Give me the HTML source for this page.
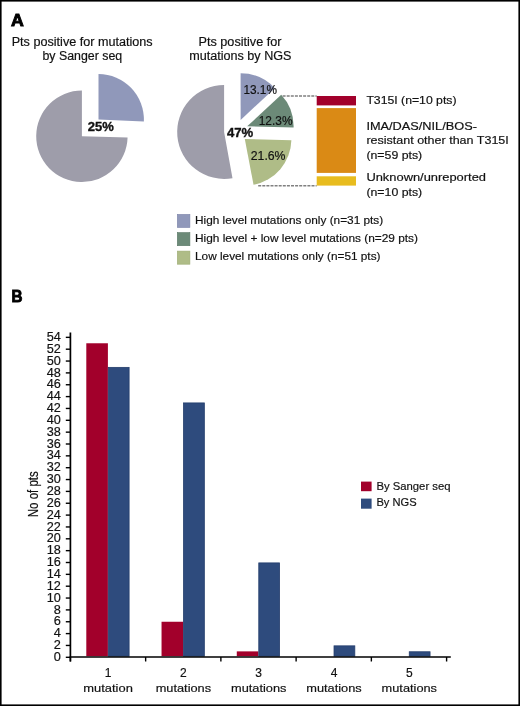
<!DOCTYPE html>
<html><head><meta charset="utf-8">
<style>
html,body{margin:0;padding:0;background:#fff;}
body{width:520px;height:706px;overflow:hidden;}
svg{display:block;will-change:transform;}
text{font-family:"Liberation Sans", sans-serif;fill:#111;stroke:#111;stroke-width:0.18px;}
.b{font-weight:bold;stroke-width:0.35px;}
.h{stroke-width:0.9px;fill:#000;stroke:#000;}
</style></head>
<body>
<svg width="520" height="706" viewBox="0 0 520 706">
<rect x="0" y="0" width="520" height="706" fill="#fff"/>
<rect x="0.8" y="0.8" width="518.4" height="704.4" fill="none" stroke="#000" stroke-width="1.6"/>

<!-- Panel A -->
<text class="b h" x="11" y="25.6" font-size="16.8" textLength="12.8" lengthAdjust="spacingAndGlyphs">A</text>

<text x="11.7" y="46" font-size="12" textLength="141" lengthAdjust="spacingAndGlyphs">Pts positive for mutations</text>
<text x="42.5" y="60.2" font-size="12" textLength="79.7" lengthAdjust="spacingAndGlyphs">by Sanger seq</text>

<text x="198.5" y="46.2" font-size="12" textLength="83" lengthAdjust="spacingAndGlyphs">Pts positive for</text>
<text x="189.2" y="60" font-size="12" textLength="102.3" lengthAdjust="spacingAndGlyphs">mutations by NGS</text>

<!-- pie 1 -->
<path d="M98.50,119.50 L98.50,74.10 A45.4,45.4 0 0 1 143.86,121.40 Z" fill="#9098BA"/>
<path d="M81.90,136.30 L127.58,137.58 A45.7,45.7 0 1 1 81.90,90.60 Z" fill="#9E9DAA"/>
<text class="b" x="87.7" y="130.9" font-size="12.6" textLength="26" lengthAdjust="spacingAndGlyphs">25%</text>

<!-- pie 2 -->
<path d="M240.60,119.90 L240.60,73.30 A46.6,46.6 0 0 1 274.77,88.21 Z" fill="#9098BA"/>
<path d="M247.20,126.30 L281.22,94.75 A46.4,46.4 0 0 1 293.59,127.47 Z" fill="#6C8A78"/>
<path d="M244.80,139.00 L291.39,140.17 A46.6,46.6 0 0 1 253.53,184.77 Z" fill="#AFBC87"/>
<path d="M224.10,132.00 L232.49,178.14 A46.9,46.9 0 1 1 224.10,85.10 Z" fill="#9E9DAA"/>
<text class="b" x="227" y="137" font-size="12.6" textLength="26.3" lengthAdjust="spacingAndGlyphs">47%</text>
<text x="243.4" y="94.25" font-size="12.2" textLength="33.5" lengthAdjust="spacingAndGlyphs">13.1%</text>
<text x="258.75" y="125" font-size="12.2" textLength="33.75" lengthAdjust="spacingAndGlyphs">12.3%</text>
<text x="250.75" y="160" font-size="12.2" textLength="34.75" lengthAdjust="spacingAndGlyphs">21.6%</text>

<!-- dashed connectors -->
<line x1="282.6" y1="95.9" x2="316.7" y2="95.9" stroke="#808080" stroke-width="1.5" stroke-dasharray="3,1.1"/>
<line x1="258.2" y1="185.8" x2="316.7" y2="185.8" stroke="#808080" stroke-width="1.5" stroke-dasharray="3,1.1"/>

<!-- stacked bar -->
<rect x="316.7" y="96" width="39.3" height="9.4" fill="#A2002B"/>
<rect x="316.7" y="108.1" width="39.3" height="64.8" fill="#DA8A15"/>
<rect x="316.7" y="176.3" width="39.3" height="9.3" fill="#E8BC1E"/>

<g font-size="11.4">
<text x="366.4" y="104.4" textLength="90.1" lengthAdjust="spacingAndGlyphs">T315I (n=10 pts)</text>
<text x="366.4" y="129.6" textLength="110.5" lengthAdjust="spacingAndGlyphs">IMA/DAS/NIL/BOS-</text>
<text x="366.4" y="144.4" textLength="142.4" lengthAdjust="spacingAndGlyphs">resistant other than T315I</text>
<text x="366.4" y="158.8" textLength="55.8" lengthAdjust="spacingAndGlyphs">(n=59 pts)</text>
<text x="366.4" y="181.3" textLength="119.6" lengthAdjust="spacingAndGlyphs">Unknown/unreported</text>
<text x="366.4" y="195.8" textLength="55.8" lengthAdjust="spacingAndGlyphs">(n=10 pts)</text>
</g>

<!-- legend A -->
<rect x="177.3" y="214.4" width="12.6" height="13.1" fill="#9098BA" stroke="#7C84AA" stroke-width="0.6"/>
<rect x="177.3" y="232.6" width="12.6" height="13.1" fill="#6C8A78" stroke="#5A7866" stroke-width="0.6"/>
<rect x="177.3" y="251.1" width="12.6" height="13.1" fill="#AFBC87" stroke="#9DAC74" stroke-width="0.6"/>
<g font-size="11.4">
<text x="195" y="223.9" textLength="188.2" lengthAdjust="spacingAndGlyphs">High level mutations only (n=31 pts)</text>
<text x="195" y="241.9" textLength="223" lengthAdjust="spacingAndGlyphs">High level + low level mutations (n=29 pts)</text>
<text x="195" y="259.9" textLength="185.5" lengthAdjust="spacingAndGlyphs">Low level mutations only (n=51 pts)</text>
</g>

<!-- Panel B -->
<text class="b h" x="11.6" y="302.2" font-size="16.8" textLength="11" lengthAdjust="spacingAndGlyphs">B</text>

<g id="chart">
<rect x="86.30" y="343.27" width="21.6" height="312.93" fill="#A2002B"/>
<rect x="108.30" y="367.37" width="20.80" height="288.83" fill="#2E4B7D" stroke="#233D6C" stroke-width="0.8"/>
<rect x="161.54" y="621.75" width="21.6" height="34.45" fill="#A2002B"/>
<rect x="183.54" y="402.92" width="20.80" height="253.28" fill="#2E4B7D" stroke="#233D6C" stroke-width="0.8"/>
<rect x="236.78" y="651.38" width="21.6" height="4.83" fill="#A2002B"/>
<rect x="258.78" y="562.90" width="20.80" height="93.30" fill="#2E4B7D" stroke="#233D6C" stroke-width="0.8"/>
<rect x="334.02" y="645.85" width="20.80" height="10.35" fill="#2E4B7D" stroke="#233D6C" stroke-width="0.8"/>
<rect x="409.26" y="651.77" width="20.80" height="4.43" fill="#2E4B7D" stroke="#233D6C" stroke-width="0.8"/>
<line x1="70.4" y1="332.5" x2="70.4" y2="661.5" stroke="#000" stroke-width="1.7"/>
<line x1="69.6" y1="657" x2="450.8" y2="657" stroke="#000" stroke-width="1.7"/>
<line x1="65.8" y1="657.30" x2="70.4" y2="657.30" stroke="#000" stroke-width="1.4"/>
<line x1="65.8" y1="645.45" x2="70.4" y2="645.45" stroke="#000" stroke-width="1.4"/>
<line x1="65.8" y1="633.60" x2="70.4" y2="633.60" stroke="#000" stroke-width="1.4"/>
<line x1="65.8" y1="621.75" x2="70.4" y2="621.75" stroke="#000" stroke-width="1.4"/>
<line x1="65.8" y1="609.90" x2="70.4" y2="609.90" stroke="#000" stroke-width="1.4"/>
<line x1="65.8" y1="598.05" x2="70.4" y2="598.05" stroke="#000" stroke-width="1.4"/>
<line x1="65.8" y1="586.20" x2="70.4" y2="586.20" stroke="#000" stroke-width="1.4"/>
<line x1="65.8" y1="574.35" x2="70.4" y2="574.35" stroke="#000" stroke-width="1.4"/>
<line x1="65.8" y1="562.50" x2="70.4" y2="562.50" stroke="#000" stroke-width="1.4"/>
<line x1="65.8" y1="550.65" x2="70.4" y2="550.65" stroke="#000" stroke-width="1.4"/>
<line x1="65.8" y1="538.80" x2="70.4" y2="538.80" stroke="#000" stroke-width="1.4"/>
<line x1="65.8" y1="526.95" x2="70.4" y2="526.95" stroke="#000" stroke-width="1.4"/>
<line x1="65.8" y1="515.10" x2="70.4" y2="515.10" stroke="#000" stroke-width="1.4"/>
<line x1="65.8" y1="503.25" x2="70.4" y2="503.25" stroke="#000" stroke-width="1.4"/>
<line x1="65.8" y1="491.40" x2="70.4" y2="491.40" stroke="#000" stroke-width="1.4"/>
<line x1="65.8" y1="479.55" x2="70.4" y2="479.55" stroke="#000" stroke-width="1.4"/>
<line x1="65.8" y1="467.70" x2="70.4" y2="467.70" stroke="#000" stroke-width="1.4"/>
<line x1="65.8" y1="455.85" x2="70.4" y2="455.85" stroke="#000" stroke-width="1.4"/>
<line x1="65.8" y1="444.00" x2="70.4" y2="444.00" stroke="#000" stroke-width="1.4"/>
<line x1="65.8" y1="432.15" x2="70.4" y2="432.15" stroke="#000" stroke-width="1.4"/>
<line x1="65.8" y1="420.30" x2="70.4" y2="420.30" stroke="#000" stroke-width="1.4"/>
<line x1="65.8" y1="408.45" x2="70.4" y2="408.45" stroke="#000" stroke-width="1.4"/>
<line x1="65.8" y1="396.60" x2="70.4" y2="396.60" stroke="#000" stroke-width="1.4"/>
<line x1="65.8" y1="384.75" x2="70.4" y2="384.75" stroke="#000" stroke-width="1.4"/>
<line x1="65.8" y1="372.90" x2="70.4" y2="372.90" stroke="#000" stroke-width="1.4"/>
<line x1="65.8" y1="361.05" x2="70.4" y2="361.05" stroke="#000" stroke-width="1.4"/>
<line x1="65.8" y1="349.20" x2="70.4" y2="349.20" stroke="#000" stroke-width="1.4"/>
<line x1="65.8" y1="337.35" x2="70.4" y2="337.35" stroke="#000" stroke-width="1.4"/>
<line x1="70.40" y1="657" x2="70.40" y2="661.5" stroke="#000" stroke-width="1.4"/>
<line x1="145.64" y1="657" x2="145.64" y2="661.5" stroke="#000" stroke-width="1.4"/>
<line x1="220.88" y1="657" x2="220.88" y2="661.5" stroke="#000" stroke-width="1.4"/>
<line x1="296.12" y1="657" x2="296.12" y2="661.5" stroke="#000" stroke-width="1.4"/>
<line x1="371.36" y1="657" x2="371.36" y2="661.5" stroke="#000" stroke-width="1.4"/>
<line x1="446.60" y1="657" x2="446.60" y2="661.5" stroke="#000" stroke-width="1.4"/>
<g font-size="12" text-anchor="end">
<text x="60.9" y="660.90" textLength="7.1" lengthAdjust="spacingAndGlyphs">0</text>
<text x="60.9" y="649.05" textLength="7.1" lengthAdjust="spacingAndGlyphs">2</text>
<text x="60.9" y="637.20" textLength="7.1" lengthAdjust="spacingAndGlyphs">4</text>
<text x="60.9" y="625.35" textLength="7.1" lengthAdjust="spacingAndGlyphs">6</text>
<text x="60.9" y="613.50" textLength="7.1" lengthAdjust="spacingAndGlyphs">8</text>
<text x="60.9" y="601.65" textLength="14.1" lengthAdjust="spacingAndGlyphs">10</text>
<text x="60.9" y="589.80" textLength="14.1" lengthAdjust="spacingAndGlyphs">12</text>
<text x="60.9" y="577.95" textLength="14.1" lengthAdjust="spacingAndGlyphs">14</text>
<text x="60.9" y="566.10" textLength="14.1" lengthAdjust="spacingAndGlyphs">16</text>
<text x="60.9" y="554.25" textLength="14.1" lengthAdjust="spacingAndGlyphs">18</text>
<text x="60.9" y="542.40" textLength="14.1" lengthAdjust="spacingAndGlyphs">20</text>
<text x="60.9" y="530.55" textLength="14.1" lengthAdjust="spacingAndGlyphs">22</text>
<text x="60.9" y="518.70" textLength="14.1" lengthAdjust="spacingAndGlyphs">24</text>
<text x="60.9" y="506.85" textLength="14.1" lengthAdjust="spacingAndGlyphs">26</text>
<text x="60.9" y="495.00" textLength="14.1" lengthAdjust="spacingAndGlyphs">28</text>
<text x="60.9" y="483.15" textLength="14.1" lengthAdjust="spacingAndGlyphs">30</text>
<text x="60.9" y="471.30" textLength="14.1" lengthAdjust="spacingAndGlyphs">32</text>
<text x="60.9" y="459.45" textLength="14.1" lengthAdjust="spacingAndGlyphs">34</text>
<text x="60.9" y="447.60" textLength="14.1" lengthAdjust="spacingAndGlyphs">36</text>
<text x="60.9" y="435.75" textLength="14.1" lengthAdjust="spacingAndGlyphs">38</text>
<text x="60.9" y="423.90" textLength="14.1" lengthAdjust="spacingAndGlyphs">40</text>
<text x="60.9" y="412.05" textLength="14.1" lengthAdjust="spacingAndGlyphs">42</text>
<text x="60.9" y="400.20" textLength="14.1" lengthAdjust="spacingAndGlyphs">44</text>
<text x="60.9" y="388.35" textLength="14.1" lengthAdjust="spacingAndGlyphs">46</text>
<text x="60.9" y="376.50" textLength="14.1" lengthAdjust="spacingAndGlyphs">48</text>
<text x="60.9" y="364.65" textLength="14.1" lengthAdjust="spacingAndGlyphs">50</text>
<text x="60.9" y="352.80" textLength="14.1" lengthAdjust="spacingAndGlyphs">52</text>
<text x="60.9" y="340.95" textLength="14.1" lengthAdjust="spacingAndGlyphs">54</text>
</g>
<g font-size="12" text-anchor="middle">
<text x="108.10" y="677">1</text>
<text x="108.10" y="691.9" font-size="11.5" textLength="49.5" lengthAdjust="spacingAndGlyphs">mutation</text>
<text x="183.40" y="677">2</text>
<text x="183.40" y="691.9" font-size="11.5" textLength="55.4" lengthAdjust="spacingAndGlyphs">mutations</text>
<text x="258.70" y="677">3</text>
<text x="258.70" y="691.9" font-size="11.5" textLength="55.4" lengthAdjust="spacingAndGlyphs">mutations</text>
<text x="334.00" y="677">4</text>
<text x="334.00" y="691.9" font-size="11.5" textLength="55.4" lengthAdjust="spacingAndGlyphs">mutations</text>
<text x="409.30" y="677">5</text>
<text x="409.30" y="691.9" font-size="11.5" textLength="55.4" lengthAdjust="spacingAndGlyphs">mutations</text>
</g>
<text transform="translate(38.1,494.25) rotate(-90)" font-size="14" text-anchor="middle" textLength="46" lengthAdjust="spacingAndGlyphs">No of pts</text>
<rect x="361" y="481.6" width="10.6" height="9.6" fill="#A2002B"/>
<rect x="361" y="498.6" width="10.6" height="10.1" fill="#2E4B7D"/>
<g font-size="11.4"><text x="376.4" y="490.1" textLength="74.1" lengthAdjust="spacingAndGlyphs">By Sanger seq</text><text x="376.4" y="506.4" textLength="40.2" lengthAdjust="spacingAndGlyphs">By NGS</text></g>
</g>
</svg>
</body></html>
